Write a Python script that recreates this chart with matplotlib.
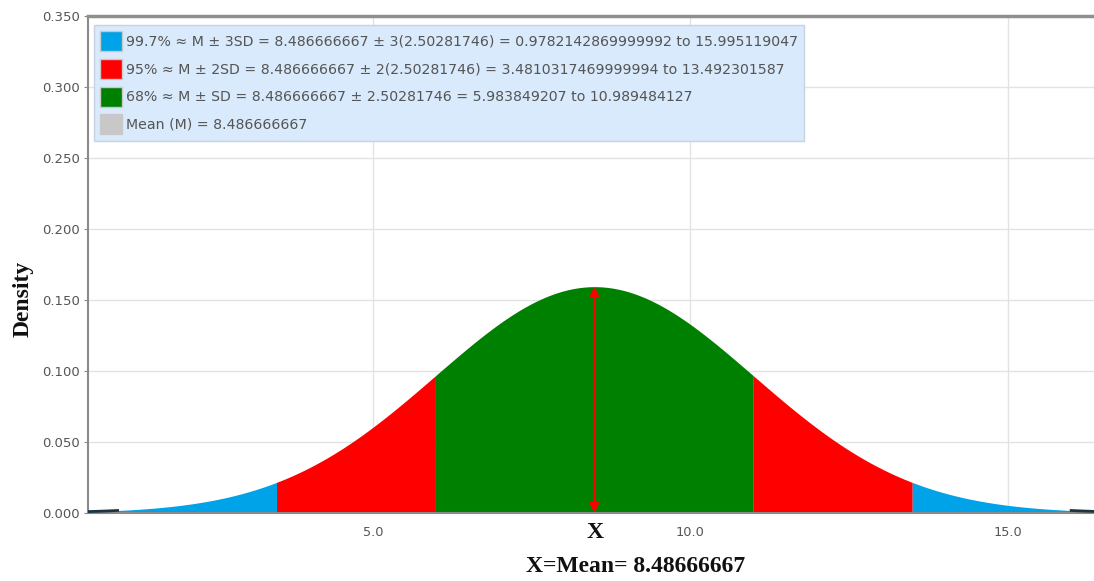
import numpy as np
import matplotlib
matplotlib.use("Agg")
import matplotlib.pyplot as plt
from matplotlib.patches import Patch

# Distribution parameters
mean = 8.486666667
sd = 2.50281746

# Interval bounds (M ± k·SD)
bounds_3sd = [0.9782142869999992, 15.995119047]
bounds_2sd = [3.4810317469999994, 13.492301587]
bounds_1sd = [5.983849207, 10.989484127]

legend_labels = [
    "99.7% \u2248 M \u00b1 3SD = 8.486666667 \u00b1 3(2.50281746) = 0.9782142869999992 to 15.995119047",
    "95% \u2248 M \u00b1 2SD = 8.486666667 \u00b1 2(2.50281746) = 3.4810317469999994 to 13.492301587",
    "68% \u2248 M \u00b1 SD = 8.486666667 \u00b1 2.50281746 = 5.983849207 to 10.989484127",
    "Mean (M) = 8.486666667",
]
legend_colors = ["#00a2e8", "#ff0000", "#008000", "#c8c8c8"]

x_ticks = [5.0, 10.0, 15.0]
y_ticks = [0.000, 0.050, 0.100, 0.150, 0.200, 0.250, 0.300, 0.350]
x_min, x_max = 0.512, 16.355


def pdf(x):
    return np.exp(-0.5 * ((x - mean) / sd) ** 2) / (sd * np.sqrt(2 * np.pi))


W, H = 1094, 581
fig = plt.figure(figsize=(W / 100, H / 100), dpi=100)
ax = fig.add_axes([88 / W, 1 - 513 / H, (W - 88) / W, (513 - 16) / H])

ax.set_xlim(x_min, x_max)
ax.set_ylim(0, 0.35)

# Grid
ax.set_xticks(x_ticks)
ax.set_yticks(y_ticks)
ax.grid(True, color="#e3e3e3", lw=1, zorder=0)
ax.set_axisbelow(True)

# Shaded bands
bands = [
    (bounds_3sd[0], bounds_2sd[0], legend_colors[0]),
    (bounds_2sd[0], bounds_1sd[0], legend_colors[1]),
    (bounds_1sd[0], bounds_1sd[1], legend_colors[2]),
    (bounds_1sd[1], bounds_2sd[1], legend_colors[1]),
    (bounds_2sd[1], bounds_3sd[1], legend_colors[0]),
]
for a, b, c in bands:
    xs = np.linspace(a, b, 300)
    ax.fill_between(xs, 0, pdf(xs), color=c, lw=0, zorder=2)

# Tails beyond ±3SD
for a, b in [(x_min, bounds_3sd[0]), (bounds_3sd[1], x_max)]:
    xs = np.linspace(a, b, 100)
    ax.plot(xs, pdf(xs), color="#1d3440", lw=2, zorder=3)

# Mean marker
ax.annotate("", xy=(mean, pdf(mean)), xytext=(mean, 0),
            arrowprops=dict(arrowstyle="<|-|>", color="#ff0000", lw=2,
                            mutation_scale=12, shrinkA=0, shrinkB=0),
            zorder=4)

# Axes styling
ax.spines["right"].set_visible(False)
ax.spines["left"].set_color("#8a8a8a")
ax.spines["left"].set_linewidth(1.5)
ax.spines["bottom"].set_color("#8a8a8a")
ax.spines["bottom"].set_linewidth(1.5)
ax.spines["top"].set_color("#8f8f8f")
ax.spines["top"].set_linewidth(2.5)

ax.set_xticklabels(["5.0", "10.0", "15.0"])
ax.set_yticklabels([f"{v:.3f}" for v in y_ticks])
ax.tick_params(axis="x", length=0, pad=9, labelsize=9.3, labelcolor="#555555")
ax.tick_params(axis="y", length=3, color="#8a8a8a", pad=3, labelsize=9.5,
               labelcolor="#555555")

# Text labels
serif = ["Liberation Serif", "DejaVu Serif"]
fig.text(595 / W, 1 - 533 / H, "X", ha="center", va="center",
         family=serif, fontweight="bold", fontsize=17, color="#111111")
fig.text(636 / W, 1 - 567 / H, "X=Mean= 8.48666667", ha="center", va="center",
         family=serif, fontweight="bold", fontsize=17, color="#111111")
fig.text(23 / W, 1 - 299 / H, "Density", ha="center", va="center",
         rotation=90, family=serif, fontweight="bold", fontsize=17,
         color="#111111")

# Legend
handles = [Patch(facecolor=c, edgecolor="#c9c9c9", lw=1) for c in legend_colors]
leg = ax.legend(handles, legend_labels, loc="upper left",
                bbox_to_anchor=(94 / W, 1 - 25 / H),
                bbox_transform=fig.transFigure, borderaxespad=0,
                fontsize=10.2, frameon=True, fancybox=False,
                facecolor="#d9eafc", edgecolor="#c5d3e2", framealpha=1,
                handlelength=1.55, handleheight=1.79, handletextpad=0.25,
                labelspacing=0.54, borderpad=0.45)
for t in leg.get_texts():
    t.set_color("#555555")
leg.set_zorder(5)

fig.savefig("out.png", dpi=100)
